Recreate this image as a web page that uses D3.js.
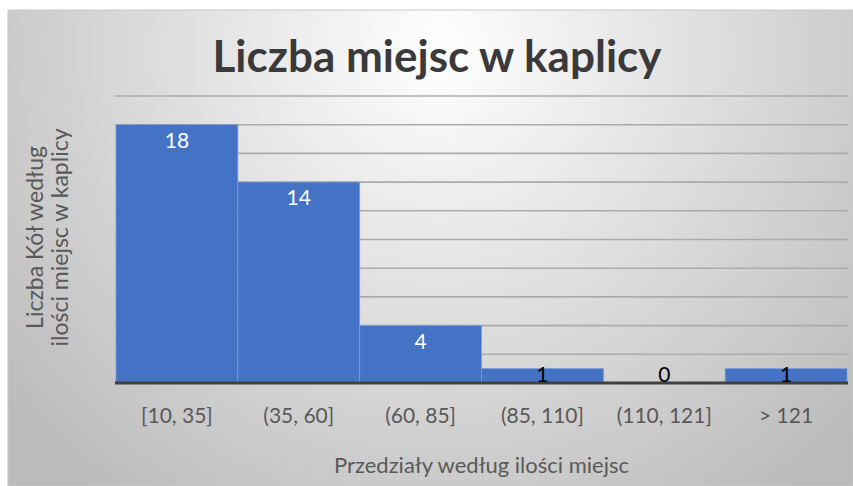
<!DOCTYPE html>
<html>
<head>
<meta charset="utf-8">
<script src="https://cdn.jsdelivr.net/npm/d3@7"></script>
<style>
  body { margin: 0; background: #fff; }
  svg { display: block; font-family: Lato, "Open Sans", sans-serif; }
</style>
</head>
<body>
<div id="chart"></div>
<script>
var categories = ["[10, 35]", "(35, 60]", "(60, 85]", "(85, 110]", "(110, 121]", "> 121"];
var counts = [18, 14, 4, 1, 0, 1];
var yTicks = [0, 2, 4, 6, 8, 10, 12, 14, 16, 18, 20];

var W = 853, H = 486;
var margin = {top: 96, right: 6, bottom: 103, left: 116};
var width = W - margin.left - margin.right,
    height = H - margin.top - margin.bottom;

var svg = d3.select("#chart").append("svg")
    .attr("width", W)
    .attr("height", H);

var defs = svg.append("defs");
var grad = defs.append("radialGradient")
    .attr("id", "bg")
    .attr("gradientUnits", "userSpaceOnUse")
    .attr("cx", 440).attr("cy", 50).attr("r", 560);
grad.append("stop").attr("offset", "0%").attr("stop-color", "#ffffff");
grad.append("stop").attr("offset", "100%").attr("stop-color", "#bbbbbb");

// chart area
svg.append("rect")
    .attr("x", 8).attr("y", 10)
    .attr("width", W - 8).attr("height", H - 10)
    .attr("fill", "url(#bg)")
    .attr("stroke", "#c8c8c8")
    .attr("stroke-width", 1);

svg.append("text")
    .attr("x", 437).attr("y", 57)
    .attr("dy", "0.35em")
    .attr("text-anchor", "middle")
    .attr("fill", "#3a3a3a")
    .style("font-size", "44px")
    .style("font-weight", "bold")
    .text("Liczba miejsc w kaplicy");

var g = svg.append("g")
    .attr("transform", "translate(" + margin.left + "," + margin.top + ")");

var x = d3.scaleBand()
    .domain(categories)
    .range([0, width])
    .padding(0);

var y = d3.scaleLinear()
    .domain([0, 20])
    .range([height, 0]);

// gridlines
g.append("g")
  .selectAll("line")
  .data(yTicks.filter(function(d) { return d > 0; }))
  .enter().append("line")
    .attr("x1", -1).attr("x2", width + 1)
    .attr("y1", function(d) { return y(d); })
    .attr("y2", function(d) { return y(d); })
    .attr("stroke", "#ababab")
    .attr("stroke-width", 1.6);

// bars
var data = categories.map(function(c, i) { return {cat: c, value: counts[i]}; });

g.append("g")
  .selectAll("rect")
  .data(data)
  .enter().append("rect")
    .attr("x", function(d) { return x(d.cat); })
    .attr("y", function(d) { return y(d.value); })
    .attr("width", x.bandwidth())
    .attr("height", function(d) { return y(0) - y(d.value); })
    .attr("fill", "#4472C4")
    .attr("stroke", "#7b9bd6")
    .attr("stroke-width", 0.8);

// x axis
var xAxis = d3.axisBottom(x).tickSize(0).tickPadding(0);
var xg = g.append("g")
    .attr("transform", "translate(0," + height + ")")
    .call(xAxis);
xg.select(".domain")
    .attr("stroke", "#404040")
    .attr("stroke-width", 3)
    .attr("d", "M-1,0H" + (width + 1));
xg.selectAll(".tick text")
    .attr("y", 33)
    .attr("dy", "0.35em")
    .attr("fill", "#595959")
    .style("font-size", "21px")
    .style("font-family", "Lato, 'Open Sans', sans-serif");

// data labels
g.append("g")
  .selectAll("text")
  .data(data)
  .enter().append("text")
    .attr("x", function(d) { return x(d.cat) + x.bandwidth() / 2; })
    .attr("y", function(d) { return Math.min(y(d.value) + 16, y(0) - 8); })
    .attr("dy", "0.35em")
    .attr("text-anchor", "middle")
    .attr("fill", function(d) { return y(0) - y(d.value) > 30 ? "#ffffff" : "#000000"; })
    .style("font-size", "21px")
    .text(function(d) { return d.value; });

// axis titles
svg.append("text")
    .attr("x", margin.left + width / 2)
    .attr("y", 465)
    .attr("dy", "0.35em")
    .attr("text-anchor", "middle")
    .attr("fill", "#595959")
    .style("font-size", "22px")
    .text("Przedziały według ilości miejsc");

var yt = svg.append("text")
    .attr("transform", "translate(36," + (margin.top + height / 2 - 2) + ") rotate(-90)")
    .attr("text-anchor", "middle")
    .attr("fill", "#595959")
    .style("font-size", "23px");
yt.append("tspan").attr("x", 0).attr("dy", "0.3em").text("Liczba Kół według");
yt.append("tspan").attr("x", 0).attr("dy", "1.1em").text("ilości miejsc w kaplicy");
</script>
</body>
</html>
